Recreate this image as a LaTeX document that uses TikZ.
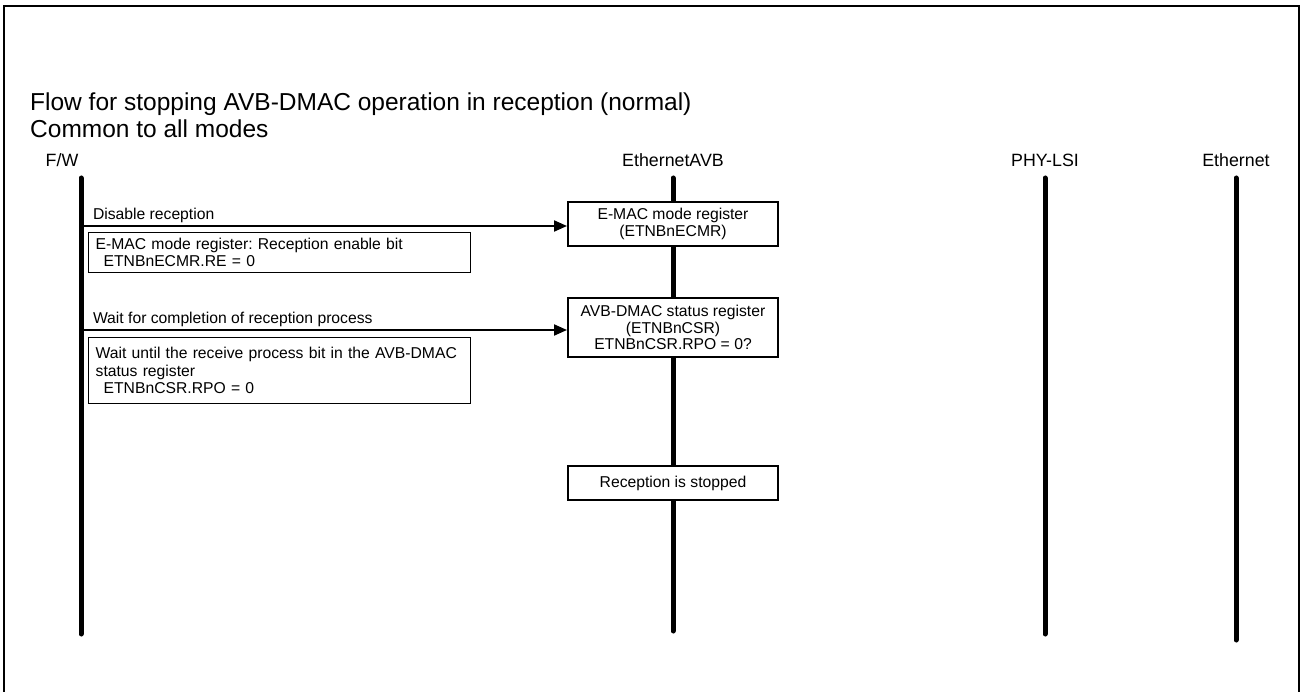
\documentclass[tikz,border=0pt]{standalone}
\usepackage{fontspec}
\setmainfont{Liberation Sans}
\usetikzlibrary{arrows.meta,positioning}
\frenchspacing

\begin{document}
\begin{tikzpicture}[
  x=1pt,y=-1pt,
  every node/.style={inner sep=0pt},
  titletext/.style={anchor=base west,align=left,font=\fontsize{24.5}{27}\selectfont},
  lanelabel/.style={anchor=base,font=\fontsize{17.8}{20}\selectfont},
  lifeline/.style={line width=5pt,line cap=round},
  regbox/.style={draw,line width=2pt,fill=white,minimum width=210pt,inner sep=4pt,align=center,font=\fontsize{15.7}{16.8}\selectfont},
  notebox/.style={draw,line width=1.3pt,fill=white,anchor=north west,minimum width=382pt,text width=368pt,inner xsep=7pt,inner ysep=4pt,align=left,font=\fontsize{15.7}{17.3}\selectfont},
  msgarrow/.style={-{Triangle[length=13pt,width=11pt]},line width=2pt},
  msglabel/.style={anchor=south west,inner sep=2pt,font=\fontsize{15.7}{17}\selectfont}
]
\useasboundingbox (0,0) rectangle (1301,692);
% frame, open at the bottom
\draw[line width=1.5pt] (4,692) -- (4,6) -- (1299,6) -- (1299,692);

\node[titletext] (title) at (30,111) {Flow for stopping AVB-DMAC operation in reception (normal)};
\node[titletext] (subtitle) at (30,138) {Common to all modes};

% lanes
\node[lanelabel] (fwlbl) at (62,167) {F/W};
\node[lanelabel] (avblbl) at (673,167) {EthernetAVB};
\node[lanelabel] (phylbl) at (1045,167) {PHY-LSI};
\node[lanelabel] (etherlbl) at (1236,167) {Ethernet};

\coordinate (fwtop) at (81,178);
\coordinate (fwbot) at (81,634);
\coordinate (avbtop) at (673,178);
\coordinate (avbbot) at (673,631);
\coordinate (phytop) at (1045,178);
\coordinate (phybot) at (1045,634);
\coordinate (ethertop) at (1236,178);
\coordinate (etherbot) at (1236,640);

\draw[lifeline] (fwtop) -- (fwbot);
\draw[lifeline] (avbtop) -- (avbbot);
\draw[lifeline] (phytop) -- (phybot);
\draw[lifeline] (ethertop) -- (etherbot);

% EthernetAVB side
\node[regbox,minimum height=44pt] (emacreg) at (673,224) {E-MAC mode register\\(ETNBnECMR)};
\node[regbox,minimum height=59pt] (csrreg) at (673,327.5) {AVB-DMAC status register\\(ETNBnCSR)\\ETNBnCSR.RPO = 0?};
\node[regbox,minimum height=34pt] (stopped) at (673,483) {Reception is stopped};

% F/W side
\coordinate (fw1) at (81,226);
\coordinate (fw2) at (81,330);

\draw[msgarrow] (fw1) -- node[msglabel,pos=0,xshift=9pt]{Disable reception} (fw1 -| emacreg.west);
\draw[msgarrow] (fw2) -- node[msglabel,pos=0,xshift=9pt]{Wait for completion of reception process} (fw2 -| csrreg.west);

\node[notebox,minimum height=40pt] (note1) at (88,232) {E-MAC mode register: Reception enable bit\\\hspace*{8pt}ETNBnECMR.RE = 0};
\node[notebox,minimum height=66pt] (note2) at (88,337) {Wait until the receive process bit in the AVB-DMAC\\status register\\\hspace*{8pt}ETNBnCSR.RPO = 0};
\end{tikzpicture}
\end{document}
